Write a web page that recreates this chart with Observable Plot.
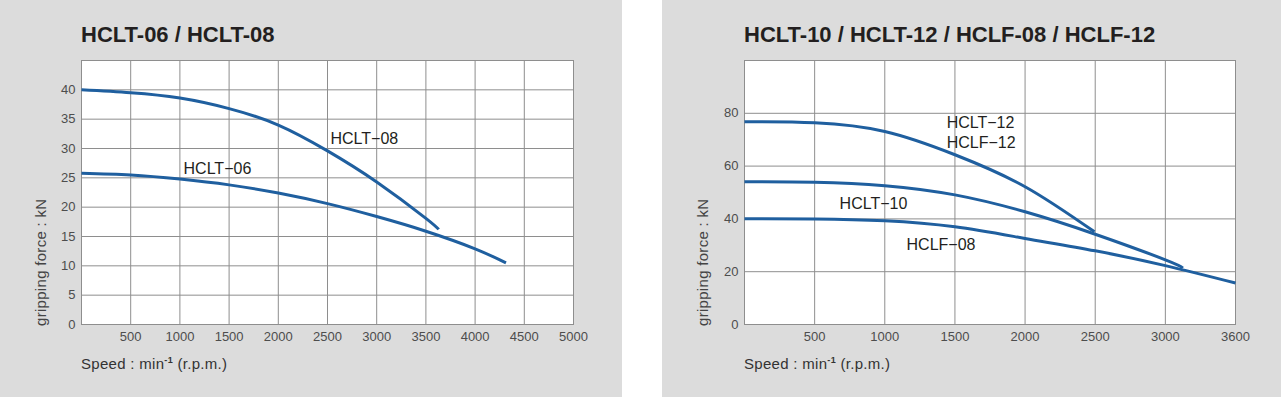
<!DOCTYPE html>
<html><head><meta charset="utf-8">
<script src="https://cdn.jsdelivr.net/npm/d3@7"></script>
<script src="https://cdn.jsdelivr.net/npm/@observablehq/plot@0.6"></script>
<style>
body{margin:0;width:1281px;height:397px;position:relative;background:#fff;font-family:"Liberation Sans",Arial,sans-serif;overflow:hidden}
.panel{position:absolute;top:0;height:397px;background:#dcdcdc}
.title{position:absolute;top:24px;font-weight:bold;font-size:22px;line-height:22px;color:#231f20;white-space:nowrap}
.xlab{position:absolute;top:356px;font-size:15px;letter-spacing:0.3px;color:#333;white-space:nowrap;line-height:15px}
.xlab sup{font-size:9px;font-weight:bold;vertical-align:6px;line-height:0}
.ylab{position:absolute;top:326px;font-size:15px;color:#444;white-space:nowrap;transform-origin:0 0;transform:rotate(-90deg);line-height:15px;letter-spacing:0.3px}
.chart{position:absolute;top:0;left:0}
</style></head><body>
<div class="panel" id="p1" style="left:0;width:622px">
  <div class="title" style="left:81px">HCLT-06 / HCLT-08</div>
  <div class="ylab" style="left:33px">gripping force : kN</div>
  <div class="xlab" style="left:81px">Speed : min<sup>-1</sup> (r.p.m.)</div>
</div>
<div class="panel" id="p2" style="left:662px;width:619px">
  <div class="title" style="left:82px">HCLT-10 / HCLT-12 / HCLF-08 / HCLF-12</div>
  <div class="ylab" style="left:33px">gripping force : kN</div>
  <div class="xlab" style="left:82px">Speed : min<sup>-1</sup> (r.p.m.)</div>
</div>
<script>
// ---- Left chart data ----
const leftXTicks = [500,1000,1500,2000,2500,3000,3500,4000,4500,5000];
const leftYTicks = [0,5,10,15,20,25,30,35,40];
const leftXGrid = [500,1000,1500,2000,2500,3000,3500,4000,4500];
const leftYGrid = [5,10,15,20,25,30,35,40];
const hclt08Speed = [0,500,1000,1500,2000,2500,3000,3500,3630];
const hclt08Force = [40,39.5,38.6,36.8,34.0,29.6,24.3,18.1,16.2];
const hclt06Speed = [0,500,1000,1500,2000,2500,3000,3500,4000,4314];
const hclt06Force = [25.8,25.5,24.8,23.8,22.4,20.6,18.4,15.9,12.9,10.5];
const leftLabels = ["HCLT\u221208","HCLT\u221206"];
const leftLabelX = [2530,1037];
const leftLabelY = [31.7,26.55];

// ---- Right chart data ----
const rightXTicks = [500,1000,1500,2000,2500,3000,3600];
const rightYTicks = [0,20,40,60,80];
const rightXGrid = [500,1000,1500,2000,2500,3000];
const rightYGrid = [20,40,60,80];
const hclt12Speed = [0,500,1000,1500,2000,2495];
const hclt12Force = [76.8,76.4,73.1,64.3,52.2,35.1];
const hclt10Speed = [0,500,1000,1500,2000,2500,3000,3150];
const hclt10Force = [54.1,53.9,52.6,49.1,42.7,34.2,24.5,21.4];
const hclf08Speed = [0,500,1000,1500,2000,2500,3000,3600];
const hclf08Force = [40.1,40,39.3,37.0,32.6,27.9,22.3,15.7];
const rightLabels = ["HCLT\u221212","HCLF\u221212","HCLT\u221210","HCLF\u221208"];
const rightLabelX = [1441,1441,678,1155];
const rightLabelY = [76.4,68.8,45.7,30.1];

// The right chart's last interval (3000 → 3600) is drawn as wide as a 500-step one.
const rpmToAxis = v => v <= 3000 ? v : 3000 + (v - 3000) * 500 / 600;
const axisToRpm = a => Math.round(a <= 3000 ? a : 3000 + (a - 3000) * 600 / 500);

const toRows = (name, xs, ys) => xs.map((x, i) => ({series: name, speed: x, force: ys[i]}));
const toLabels = (t, xs, ys) => t.map((s, i) => ({text: s, speed: xs[i], force: ys[i]}));

const gridColor = "#8e8e8e";
const lineColor = "#1f5f9f";
const style = {background: "transparent", fontSize: "13px", fontFamily: "'Liberation Sans', Arial, sans-serif", color: "#4d4d4d", overflow: "visible"};

function chart({width, marginLeft, marginRight, x, y, xMap, xGrid, yGrid, rows, labels}) {
  const X = d => xMap(d.speed);
  return Plot.plot({
    width, height: 397, marginLeft, marginRight, marginTop: 60, marginBottom: 73,
    style,
    x: {...x, tickSize: 0, tickPadding: 7, label: null},
    y: {...y, tickSize: 0, tickPadding: 6, label: null, tickFormat: d => String(d)},
    marks: [
      Plot.frame({fill: "white", stroke: "none"}),
      Plot.ruleX(xGrid.map(xMap), {stroke: gridColor, strokeWidth: 1}),
      Plot.ruleY(yGrid, {stroke: gridColor, strokeWidth: 1}),
      Plot.frame({stroke: gridColor, strokeWidth: 1}),
      Plot.line(rows, {x: X, y: "force", z: "series", stroke: lineColor, strokeWidth: 3, strokeLinecap: "butt", curve: "natural"}),
      Plot.text(labels, {x: X, y: "force", text: "text", textAnchor: "start", fontSize: 16, fill: "#231f20"})
    ]
  });
}

const identity = v => v;
const left = chart({
  width: 622, marginLeft: 81, marginRight: 49,
  x: {domain: [0, 5000], ticks: leftXTicks, tickFormat: d => String(d)},
  y: {domain: [0, 45], ticks: leftYTicks},
  xMap: identity,
  xGrid: leftXGrid, yGrid: leftYGrid,
  rows: [...toRows("HCLT-08", hclt08Speed, hclt08Force), ...toRows("HCLT-06", hclt06Speed, hclt06Force)],
  labels: toLabels(leftLabels, leftLabelX, leftLabelY)
});
left.classList.add("chart");
document.getElementById("p1").appendChild(left);

const right = chart({
  width: 619, marginLeft: 82, marginRight: 46,
  x: {domain: [0, rpmToAxis(3600)], ticks: rightXTicks.map(rpmToAxis), tickFormat: d => String(axisToRpm(d))},
  y: {domain: [0, 100], ticks: rightYTicks},
  xMap: rpmToAxis,
  xGrid: rightXGrid, yGrid: rightYGrid,
  rows: [...toRows("HCLT-12", hclt12Speed, hclt12Force), ...toRows("HCLT-10", hclt10Speed, hclt10Force), ...toRows("HCLF-08", hclf08Speed, hclf08Force)],
  labels: toLabels(rightLabels, rightLabelX, rightLabelY)
});
right.classList.add("chart");
document.getElementById("p2").appendChild(right);
</script>
</body></html>
